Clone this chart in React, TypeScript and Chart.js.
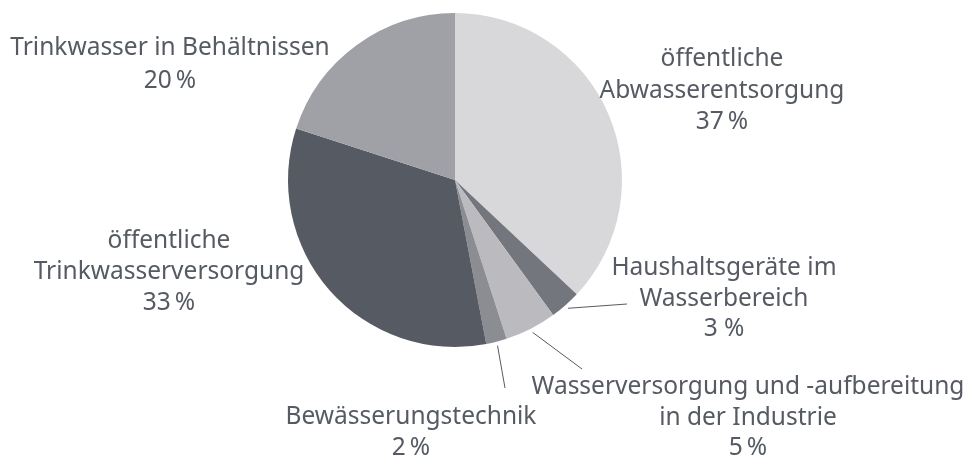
import React, { useEffect, useRef } from "react";
import { Chart, registerables } from "chart.js";

Chart.register(...registerables);

const categories = [
  "öffentliche Abwasserentsorgung",
  "Haushaltsgeräte im Wasserbereich",
  "Wasserversorgung und -aufbereitung in der Industrie",
  "Bewässerungstechnik",
  "öffentliche Trinkwasserversorgung",
  "Trinkwasser in Behältnissen",
];
const values = [37, 3, 5, 2, 33, 20];
const colors = ["#d8d8da", "#74767e", "#bbbbbf", "#8b8d93", "#565a63", "#a0a1a6"];
const labelLines = [
  ["öffentliche", "Abwasserentsorgung", "37\u2009%"],
  ["Haushaltsgeräte im", "Wasserbereich", "3 %"],
  ["Wasserversorgung und -aufbereitung", "in der Industrie", "5\u2009%"],
  ["Bewässerungstechnik", "2\u2009%"],
  ["öffentliche", "Trinkwasserversorgung", "33\u2009%"],
  ["Trinkwasser in Behältnissen", "20\u2009%"],
];
// label anchor: center x, first baseline y, line spacing
const labelPos = [
  { x: 722, y: 66, dy: 31.5 },
  { x: 724, y: 275, dy: 30.5 },
  { x: 748, y: 394, dy: 30.5 },
  { x: 411, y: 424, dy: 31 },
  { x: 169, y: 248, dy: 31 },
  { x: 170, y: 55, dy: 33 },
];
// leader line end points relative to pie center (null = no leader)
const leaderEnds: ([number, number] | null)[] = [
  null,
  [172, 124],
  [127, 189],
  [50, 208],
  null,
  null,
];

const TEXT_COLOR = "#555a63";
const FONT = "24.5px 'Noto Sans'";

const labelPlugin = {
  id: "pieLabels",
  afterDraw(chart: any) {
    const ctx = chart.ctx;
    const meta = chart.getDatasetMeta(0);
    ctx.save();
    ctx.strokeStyle = TEXT_COLOR;
    ctx.lineWidth = 1;
    meta.data.forEach((arc: any, i: number) => {
      const end = leaderEnds[i];
      if (!end) return;
      const mid = (arc.startAngle + arc.endAngle) / 2;
      const r = arc.outerRadius + 4;
      ctx.beginPath();
      ctx.moveTo(arc.x + Math.cos(mid) * r, arc.y + Math.sin(mid) * r);
      ctx.lineTo(arc.x + end[0], arc.y + end[1]);
      ctx.stroke();
    });
    ctx.fillStyle = TEXT_COLOR;
    ctx.font = FONT;
    ctx.textAlign = "center";
    ctx.textBaseline = "alphabetic";
    labelLines.forEach((lines, i) => {
      const p = labelPos[i];
      lines.forEach((t, j) => ctx.fillText(t, p.x, p.y + j * p.dy));
    });
    ctx.restore();
  },
};

export default function App() {
  const ref = useRef<HTMLCanvasElement>(null);
  useEffect(() => {
    document.body.style.margin = "0";
    const chart = new Chart(ref.current!, {
      type: "pie",
      data: {
        labels: categories,
        datasets: [
          {
            data: values,
            backgroundColor: colors,
            borderWidth: 0,
          },
        ],
      },
      options: {
        animation: false,
        responsive: false,
        layout: { padding: { left: 288, right: 345, top: 13, bottom: 110 } },
        plugins: { legend: { display: false }, tooltip: { enabled: false } },
      },
      plugins: [labelPlugin],
    });
    return () => chart.destroy();
  }, []);
  return (
    <div style={{ width: 967, height: 457, background: "#fff" }}>
      <canvas ref={ref} width={967} height={457} />
    </div>
  );
}
